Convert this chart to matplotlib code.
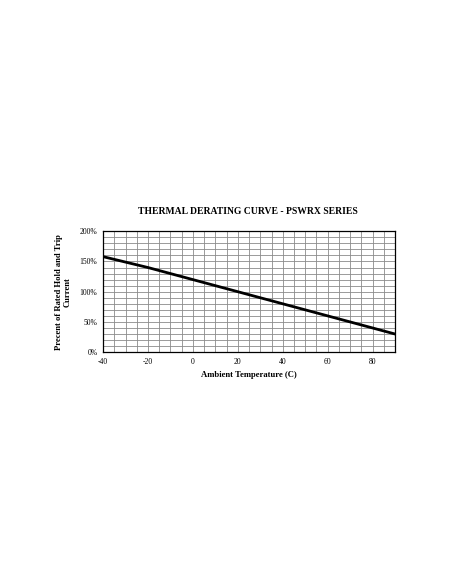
import numpy as np
import matplotlib.pyplot as plt

# Data
temps = [-40, -20, 0, 20, 40, 60, 80, 90]
percent = [158, 140, 120, 100, 80, 60, 40, 30]

x_ticks = [-40, -20, 0, 20, 40, 60, 80]
y_ticks = [0, 50, 100, 150, 200]
y_labels = ['0%', '50%', '100%', '150%', '200%']

plt.rcParams['font.family'] = ['Liberation Serif', 'DejaVu Serif']
plt.rcParams['axes.unicode_minus'] = False

fig = plt.figure(figsize=(4.52, 5.84), dpi=100)
ax = fig.add_axes([0.228, 0.397, 0.646, 0.207])

ax.plot(temps, percent, color='black', linewidth=2.0)

ax.set_xlim(-40, 90)
ax.set_ylim(0, 200)
ax.set_xticks(x_ticks)
ax.set_yticks(y_ticks)
ax.set_yticklabels(y_labels)
ax.set_xticks(np.arange(-40, 91, 5), minor=True)
ax.set_yticks(np.arange(0, 201, 10), minor=True)
ax.grid(which='both', color='#8a8a8a', linewidth=0.6)
ax.tick_params(which='both', length=0, labelsize=5.5, pad=4)

for s in ax.spines.values():
    s.set_linewidth(0.9)

ax.set_xlabel('Ambient Temperature (C)', fontsize=6.2, fontweight='bold', labelpad=4)
ax.set_ylabel('Precent of Rated Hold and Trip\nCurrent', fontsize=6.2,
              fontweight='bold', labelpad=6, linespacing=1.1)
fig.text(0.549, 0.637, 'THERMAL DERATING CURVE - PSWRX SERIES',
         ha='center', va='center', fontsize=6.9, fontweight='bold')

fig.savefig('out.png', dpi=100)
